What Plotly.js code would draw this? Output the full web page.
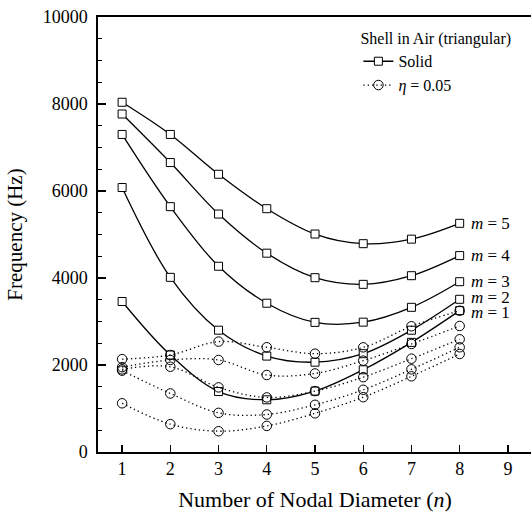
<!DOCTYPE html>
<html>
<head>
<meta charset="utf-8">
<script src="https://cdn.plot.ly/plotly-3.0.1.min.js"></script>
<style>
  html, body { margin: 0; padding: 0; overflow: hidden; background: #fff; }
  #chart { width: 541px; height: 519px; }
</style>
</head>
<body>
<div id="chart"></div>
<script>
// Nodal diameter numbers
const nodalDiameter = [1, 2, 3, 4, 5, 6, 7, 8];

// Solid shell, frequencies (Hz) for m = 1..5
const solidM1 = [3460, 2230, 1390, 1200, 1400, 1890, 2520, 3250];
const solidM2 = [6080, 4015, 2800, 2205, 2065, 2260, 2800, 3510];
const solidM3 = [7300, 5640, 4270, 3420, 2980, 2985, 3326, 3915];
const solidM4 = [7770, 6654, 5470, 4570, 4007, 3854, 4053, 4515];
const solidM5 = [8040, 7300, 6385, 5593, 5011, 4789, 4893, 5257];

// Perforated shell (eta = 0.05), frequencies (Hz), five modes
const etaM1 = [1120, 640, 477, 600, 889, 1260, 1740, 2253];
const etaM2 = [1870, 1346, 900, 862, 1085, 1430, 1900, 2407];
const etaM3 = [1900, 1960, 1485, 1254, 1400, 1720, 2145, 2591];
const etaM4 = [1950, 2115, 2115, 1770, 1805, 2100, 2483, 2897];
const etaM5 = [2135, 2230, 2538, 2408, 2260, 2406, 2890, 3248];

const modeNumbers = [1, 2, 3, 4, 5];

const serif = 'Liberation Serif, Times New Roman, Times, DejaVu Serif, serif';
const solidSets = [solidM1, solidM2, solidM3, solidM4, solidM5];
const etaSets = [etaM1, etaM2, etaM3, etaM4, etaM5];

const traces = [];

solidSets.forEach((ys, i) => {
  traces.push({
    x: nodalDiameter, y: ys, type: 'scatter', mode: 'lines+markers',
    name: 'Solid', showlegend: i === 4, legendrank: 1,
    line: { color: '#000', width: 1.3, shape: 'spline', smoothing: 1 },
    marker: { symbol: 'square', size: 8, color: '#fff', line: { color: '#000', width: 1 } },
    hoverinfo: 'skip'
  });
});

etaSets.forEach((ys, i) => {
  traces.push({
    x: nodalDiameter, y: ys, type: 'scatter', mode: 'lines+markers',
    name: '<i>η</i> = 0.05', showlegend: i === 4, legendrank: 2,
    line: { color: '#000', width: 1.3, shape: 'spline', smoothing: 1, dash: '1.3px,3px' },
    marker: { symbol: 'circle-open', size: 9.5, color: '#000', line: { color: '#000', width: 1 } },
    hoverinfo: 'skip'
  });
});

// Mode labels at the right-hand end of each solid curve
const labelShift = [-2, 2, 0, 0, 0];
const annotations = solidSets.map((ys, i) => ({
  x: nodalDiameter[nodalDiameter.length - 1], y: ys[ys.length - 1],
  xref: 'x', yref: 'y', xanchor: 'left', yanchor: 'middle',
  xshift: 9, yshift: labelShift[i],
  text: '<i>m</i> = ' + modeNumbers[i],
  showarrow: false, font: { family: serif, size: 17, color: '#000' }
}));

const layout = {
  width: 541, height: 519,
  margin: { l: 98, r: 9, t: 17, b: 67 },
  paper_bgcolor: '#fff', plot_bgcolor: '#fff',
  font: { family: serif, color: '#000' },
  showlegend: true,
  legend: {
    x: 0.6, y: 0.985, xanchor: 'left', yanchor: 'top',
    bgcolor: 'rgba(0,0,0,0)', borderwidth: 0,
    font: { family: serif, size: 16, color: '#000' },
    title: { text: 'Shell in Air (triangular)', font: { family: serif, size: 16, color: '#000' } },
    tracegroupgap: 0, itemwidth: 30
  },
  xaxis: {
    range: [0.5, 9.5], tickmode: 'linear', tick0: 1, dtick: 1,
    ticks: 'inside', ticklen: 7, tickwidth: 1.3, tickcolor: '#000',
    showline: true, linecolor: '#000', linewidth: 1.6, mirror: true,
    showgrid: false, zeroline: false,
    tickfont: { family: serif, size: 18, color: '#000' },
    title: { text: 'Number of Nodal Diameter (<i>n</i>)', font: { family: serif, size: 22, color: '#000' }, standoff: 13 }
  },
  yaxis: {
    range: [0, 10000], tickmode: 'linear', tick0: 0, dtick: 2000,
    tickformat: 'd', separatethousands: false, exponentformat: 'none',
    ticks: 'inside', ticklen: 8, tickwidth: 1.3, tickcolor: '#000',
    minor: { dtick: 500, ticks: 'inside', ticklen: 4, tickwidth: 1.2, tickcolor: '#000', showgrid: false },
    showline: true, linecolor: '#000', linewidth: 1.6, mirror: true,
    showgrid: false, zeroline: false,
    tickfont: { family: serif, size: 18, color: '#000' },
    ticklabelstandoff: 5,
    title: { text: 'Frequency (Hz)', font: { family: serif, size: 21, color: '#000' }, standoff: 14 }
  },
  annotations: annotations
};

Plotly.newPlot('chart', traces, layout, { staticPlot: true, displayModeBar: false });
</script>
</body>
</html>
